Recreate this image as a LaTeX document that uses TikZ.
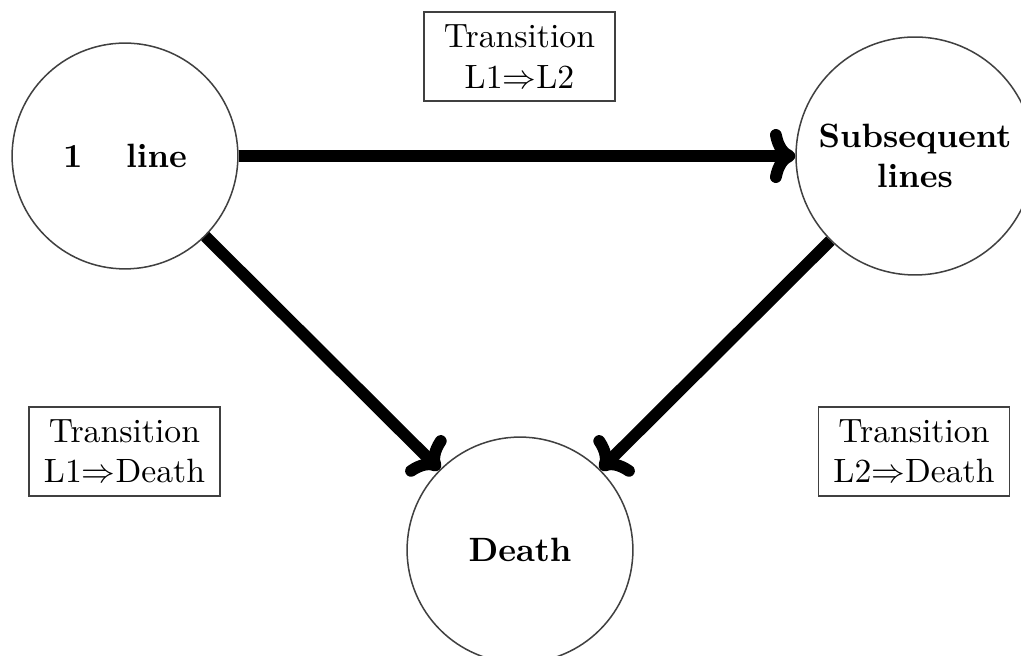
\documentclass[tikz,border=0pt]{standalone}
\usetikzlibrary{arrows.meta}
\begin{document}
\begin{tikzpicture}[x=0.2967pt,y=-0.2967pt,
  state/.style={circle,draw=black!75,line width=0.45pt,inner sep=0pt,align=center,font=\bfseries},
  tbox/.style={rectangle,draw=black!75,line width=0.45pt,align=center,inner sep=0pt,minimum width=56.7pt,minimum height=26.4pt},
  flow/.style={line width=3.5pt,-{To[length=7.5pt,width=16pt,round]}}]
\useasboundingbox (0,0) rectangle (1021,656);
\clip (0,0) rectangle (1021,656);
\node[state,minimum size=67pt] (l1) at (125,156) {1\hspace{13pt}line};
\node[state,minimum size=70.6pt] (sub) at (915,156) {Subsequent\\lines};
\node[state,minimum size=67pt] (death) at (520,550) {Death};
\node[tbox] (t12) at (519.5,56.5) {Transition\\L1$\Rightarrow$L2};
\node[tbox] (t1d) at (124.5,451.5) {Transition\\L1$\Rightarrow$Death};
\node[tbox] (t2d) at (914,451.5) {Transition\\L2$\Rightarrow$Death};
\draw[flow] (l1.east) -- (sub.west);
\draw[flow] (l1.-45) -- (death.135);
\draw[flow] (sub.-135) -- (death.45);
\end{tikzpicture}
\end{document}
